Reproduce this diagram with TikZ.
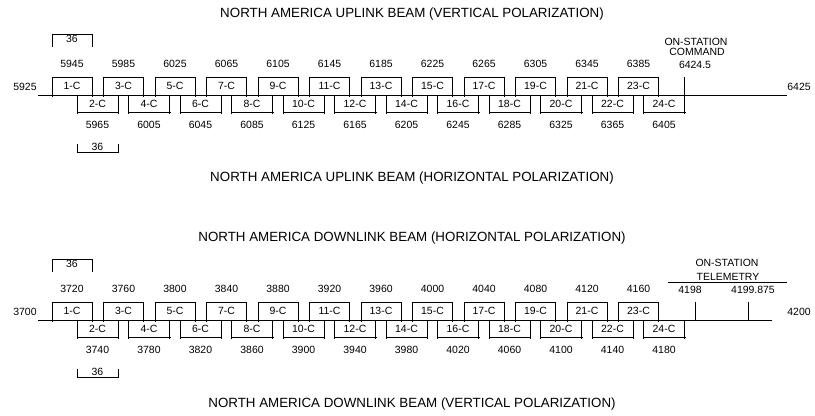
\documentclass[tikz,border=0pt]{standalone}
\usepackage{fontspec}
\setmainfont{Liberation Sans}
\usepackage{tikz}

\begin{document}
\begin{tikzpicture}[x=1bp, y=-1bp, line width=1bp,
        every node/.style={inner sep=0pt, font=\fontsize{10.5}{12}\selectfont},
        title/.style={font=\fontsize{13.4}{15}\selectfont}]
        \useasboundingbox (0,0) rectangle (815,415);

        % uplink
        \begin{scope}
        \node[title] (titleUV) at (412,14) {NORTH AMERICA UPLINK BEAM (VERTICAL POLARIZATION)};
        \node[title] (titleUH) at (412,178) {NORTH AMERICA UPLINK BEAM (HORIZONTAL POLARIZATION)};

        \draw (38,95) -- (787,95);
        \node (uLow) at (25,87) {5925};
        \node (uHigh) at (799,87) {6425};

        \foreach \k/\a/\b [evaluate=\k as \xa using 52+51.5*\k,
                evaluate=\k as \xb using 77+51.5*\k,
                evaluate=\k as \c using int(2*\k+1),
                evaluate=\k as \d using int(2*\k+2)]
                in {0/5945/5965, 1/5985/6005, 2/6025/6045, 3/6065/6085,
                    4/6105/6125, 5/6145/6165, 6/6185/6205, 7/6225/6245,
                    8/6265/6285, 9/6305/6325, 10/6345/6365, 11/6385/6405} {
            \draw (\xa,97) -- (\xa,77) -- (\xa+40,77) -- (\xa+40,97);
            \node (uCh\c) at (\xa+20,86) {\c-C};
            \node (uFq\c) at (\xa+20,64) {\a};
            \draw (\xb,95) -- (\xb,114) (\xb,112) -- (\xb+42,112) (\xb+41,95) -- (\xb+41,114);
            \node (uCh\d) at (\xb+20.5,104) {\d-C};
            \node (uFq\d) at (\xb+20.5,125) {\b};
        }

         % bandwidth
        \draw (52,47) -- (52,34) -- (92,34) -- (92,47);
        \node (uBwTop) at (72,38.5) {36};
        \draw (77,144) -- (77,152) -- (118,152) -- (118,144);
        \node (uBwBot) at (97.5,147) {36};

         % command
        \draw (684.5,77) -- (684.5,95);
        \node (uCmdA) at (696,42) {ON-STATION};
        \node (uCmdB) at (697,52) {COMMAND};
        \node (uCmdF) at (695,65) {6424.5};
        \end{scope}

        % downlink
        \begin{scope}[shift={(0,225)}]
        \node[title] (titleDH) at (412,13) {NORTH AMERICA DOWNLINK BEAM (HORIZONTAL POLARIZATION)};
        \node[title] (titleDV) at (412,179) {NORTH AMERICA DOWNLINK BEAM (VERTICAL POLARIZATION)};

        \draw (38,95) -- (772,95);
        \node (dLow) at (25,87) {3700};
        \node (dHigh) at (799,87) {4200};

        \foreach \k/\a/\b [evaluate=\k as \xa using 52+51.5*\k,
                evaluate=\k as \xb using 77+51.5*\k,
                evaluate=\k as \c using int(2*\k+1),
                evaluate=\k as \d using int(2*\k+2)]
                in {0/3720/3740, 1/3760/3780, 2/3800/3820, 3/3840/3860,
                    4/3880/3900, 5/3920/3940, 6/3960/3980, 7/4000/4020,
                    8/4040/4060, 9/4080/4100, 10/4120/4140, 11/4160/4180} {
            \draw (\xa,97) -- (\xa,77) -- (\xa+40,77) -- (\xa+40,97);
            \node (dCh\c) at (\xa+20,86) {\c-C};
            \node (dFq\c) at (\xa+20,64) {\a};
            \draw (\xb,95) -- (\xb,114) (\xb,112) -- (\xb+42,112) (\xb+41,95) -- (\xb+41,114);
            \node (dCh\d) at (\xb+20.5,104) {\d-C};
            \node (dFq\d) at (\xb+20.5,125) {\b};
        }

         % bandwidth
        \draw (52,47) -- (52,34) -- (92,34) -- (92,47);
        \node (dBwTop) at (72,38.5) {36};
        \draw (77,144) -- (77,152) -- (118,152) -- (118,144);
        \node (dBwBot) at (97.5,147) {36};

         % telemetry
        \draw (695,77) -- (695,95);
        \draw (748,77) -- (748,95);
        \draw (668,57) -- (787,57);
        \node (dTlmA) at (727,38) {ON-STATION};
        \node (dTlmB) at (728,52) {TELEMETRY};
        \node (dTlmF1) at (690,65) {4198};
        \node (dTlmF2) at (753,65) {4199.875};
        \end{scope}
      \end{tikzpicture}
\end{document}
